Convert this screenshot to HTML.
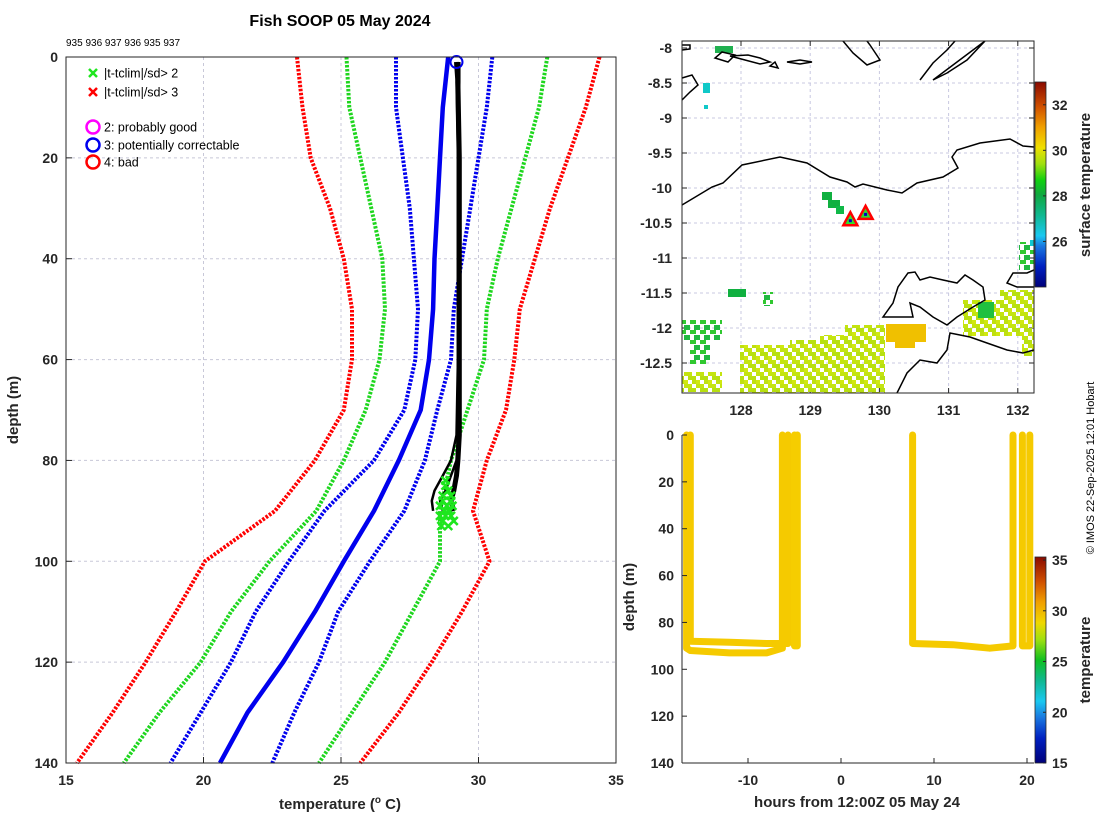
<!DOCTYPE html>
<html><head><meta charset="utf-8"><style>
body{margin:0;background:#fff}
svg{display:block;font-family:"Liberation Sans","DejaVu Sans",sans-serif}
.tk{font-size:14px;font-weight:bold;fill:#262626}
.lb{font-size:15px;font-weight:bold;fill:#262626}
</style></head><body>
<svg id="svg" width="1100" height="820" viewBox="0 0 1100 820">
<defs>
<linearGradient id="cbSurf" x1="0" y1="1" x2="0" y2="0">
<stop offset="0" stop-color="#00007a"/><stop offset="0.1" stop-color="#0020c0"/><stop offset="0.2" stop-color="#1a78e0"/><stop offset="0.25" stop-color="#1ac8f0"/><stop offset="0.35" stop-color="#10b890"/><stop offset="0.45" stop-color="#10a840"/><stop offset="0.52" stop-color="#10d010"/><stop offset="0.6" stop-color="#a0e010"/><stop offset="0.68" stop-color="#f0e000"/><stop offset="0.78" stop-color="#f0a000"/><stop offset="0.88" stop-color="#d05000"/><stop offset="1" stop-color="#8a0a00"/>
</linearGradient>
<linearGradient id="cbTemp" x1="0" y1="1" x2="0" y2="0">
<stop offset="0" stop-color="#00007a"/><stop offset="0.12" stop-color="#0020c0"/><stop offset="0.22" stop-color="#1a78e0"/><stop offset="0.3" stop-color="#1ac8f0"/><stop offset="0.4" stop-color="#10b890"/><stop offset="0.5" stop-color="#10c020"/><stop offset="0.6" stop-color="#a0e010"/><stop offset="0.68" stop-color="#f0d800"/><stop offset="0.78" stop-color="#f0a000"/><stop offset="0.88" stop-color="#d05000"/><stop offset="1" stop-color="#8a0a00"/>
</linearGradient>
<pattern id="speckY" width="12" height="12" patternUnits="userSpaceOnUse">
<rect x="0" y="0" width="8" height="4" fill="#c4e410"/><rect x="4" y="4" width="8" height="4" fill="#b8e010"/><rect x="0" y="8" width="4" height="4" fill="#d0e810"/><rect x="8" y="8" width="4" height="4" fill="#c0e010"/>
</pattern>
<pattern id="speckG" width="10" height="10" patternUnits="userSpaceOnUse">
<rect x="0" y="0" width="6" height="4" fill="#30c830"/><rect x="4" y="5" width="6" height="5" fill="#20b840"/>
</pattern>
</defs>
<text x="340" y="26" text-anchor="middle" style="font-size:16px;font-weight:bold">Fish SOOP 05 May 2024</text>
<text x="66" y="46" style="font-size:10px">935 936 937 936 935 937</text>
<g id="left"></g>
<g id="map"></g>
<g id="br"></g>
<text transform="translate(1094,468) rotate(-90)" text-anchor="middle" style="font-size:11px">© IMOS 22-Sep-2025 12:01 Hobart</text>
</svg>
<script>
// ---------- left chart data ----------
const depths = [0,10,20,30,40,50,60,70,80,90,100,110,120,130,140];
const redHi  = [34.4,33.9,33.25,32.6,32.05,31.5,31.3,31.0,30.3,29.8,30.4,29.4,28.3,27.1,25.7];
const redLo  = [23.4,23.6,23.9,24.6,25.1,25.4,25.4,25.1,24.05,22.6,20.05,19.0,17.9,16.7,15.4];
const grnHi  = [32.5,32.2,31.7,31.2,30.7,30.3,30.2,29.6,29.0,28.6,28.6,27.6,26.6,25.4,24.2];
const grnLo  = [25.2,25.3,25.7,26.1,26.5,26.6,26.4,25.9,25.1,24.1,22.4,21.0,19.9,18.4,17.1];
const bluHi  = [30.5,30.3,30.0,29.7,29.4,29.1,29.0,28.5,28.05,27.3,26.05,24.9,24.2,23.3,22.5];
const bluLo  = [27.0,27.0,27.25,27.5,27.65,27.8,27.7,27.3,26.2,24.4,23.1,21.9,21.0,19.9,18.8];
const climMean = [28.9,28.7,28.6,28.5,28.4,28.35,28.2,27.9,27.1,26.2,25.1,24.05,22.9,21.6,20.6];
const castDepth = [1,5,20,40,60,75,80,83,86,88,90];
const cast1 = [29.25,29.2,29.25,29.25,29.25,29.25,29.2,29.0,28.8,28.6,28.7];
const cast2 = [29.3,29.3,29.25,29.25,29.25,29.2,29.0,28.7,28.4,28.3,28.35];
const cast3 = [29.2,29.25,29.3,29.3,29.3,29.3,29.25,29.2,29.1,29.0,29.1];
const flagT = [28.8,28.9,29.0,28.7,28.85,29.05,28.75,28.95,28.6,28.8,29.1,28.7,28.9,28.65,29.0,28.8,28.7,29.0,28.9,28.6];
const flagD = [84,86,87,88,89,89,90,90,91,91,92,92,93,93,88,85,87,91,90,89];
const xTicks = [15,20,25,30,35];
const yTicks = [0,20,40,60,80,100,120,140];
// ---------- map data ----------
const lonTicks = [128,129,130,131,132];
const latTicks = [-8,-8.5,-9,-9.5,-10,-10.5,-11,-11.5,-12,-12.5];
const shipLon = [129.58,129.8];
const shipLat = [-10.46,-10.37];
const sstCb = [26,28,30,32];
// ---------- depth-time data ----------
const hrTicks = [-10,0,10,20];
const trkHours = [
 [-16.6,-16.6,-16.2,-12,-8,-6.3,-6.3],
 [-16.2,-16.2,-12,-8,-5.7,-5.7],
 [-4.7,-4.7,-5.0,-5.0],
 [7.7,7.7,12,16,18.5,18.5],
 [19.5,19.5,20.3,20.3]];
const trkDepths = [
 [0,91,92,93,93,91,0],
 [0,88,88.5,89,89,0],
 [0,90,90,0],
 [0,89,89.5,91,90,0],
 [0,90,90,0]];
const trkTemp = [29.2,29.2,29.1,29.2,29.2];
const tCb = [15,20,25,30,35];

const NS="http://www.w3.org/2000/svg";
function mk(parent,tag,attrs,txt){const e=document.createElementNS(NS,tag);for(const k in attrs)e.setAttribute(k,attrs[k]);if(txt!==undefined)e.textContent=txt;parent.appendChild(e);return e;}

// ===== left =====
const L=document.getElementById('left');
const LX0=66,LX1=616,LY0=57,LY1=763;
const lx=t=>LX0+(t-15)*(LX1-LX0)/20, ly=d=>LY0+d*(LY1-LY0)/140;
xTicks.forEach(t=>{if(t>15&&t<35){const g=mk(L,'line',{x1:lx(t),x2:lx(t),y1:LY0,y2:LY1,stroke:'#c8c8d8','stroke-dasharray':'3 3'});}
 const tx=mk(L,'text',{x:lx(t),y:LY1+22,'text-anchor':'middle',class:'tk'},t);
 
 mk(L,'line',{x1:lx(t),x2:lx(t),y1:LY1,y2:LY1-6,stroke:'#262626'});});
yTicks.forEach(d=>{if(d>0&&d<140){const g=mk(L,'line',{x1:LX0,x2:LX1,y1:ly(d),y2:ly(d),stroke:'#c8c8d8','stroke-dasharray':'3 3'});}
 const tx=mk(L,'text',{x:LX0-8,y:ly(d)+5,'text-anchor':'end',class:'tk'},d);
 
 mk(L,'line',{x1:LX0,x2:LX0+6,y1:ly(d),y2:ly(d),stroke:'#262626'});});
function series(vals,dep,color,w,dash,name){const p=vals.map((v,i)=>(i?'L':'M')+lx(v).toFixed(1)+','+ly(dep[i]).toFixed(1)).join('');
 const e=mk(L,'path',{d:p,fill:'none',stroke:color,'stroke-width':w,'stroke-dasharray':dash||'none','stroke-linejoin':'round'});
 }
series(redHi,depths,'#f00',4,'2.5 1.5','clim-plus-3sd');
series(redLo,depths,'#f00',4,'2.5 1.5','clim-minus-3sd');
series(grnHi,depths,'#1ed61e',4,'2.5 1.5','clim-plus-2sd');
series(grnLo,depths,'#1ed61e',4,'2.5 1.5','clim-minus-2sd');
series(bluHi,depths,'#0000ee',4,'2.5 1.5','clim-plus-1sd');
series(bluLo,depths,'#0000ee',4,'2.5 1.5','clim-minus-1sd');
series(climMean,depths,'#0000ee',4.5,null,'clim-mean');
series(cast1,castDepth,'#000',2.5,null,'profile-cast-1');
series(cast2,castDepth,'#000',2.5,null,'profile-cast-2');
series(cast3,castDepth,'#000',5,null,'profile-cast-3');
flagT.forEach((t,i)=>{const x=lx(t),y=ly(flagD[i]);const g=mk(L,'path',{d:`M${x-4},${y-4}L${x+4},${y+4}M${x-4},${y+4}L${x+4},${y-4}`,stroke:'#1ee61e','stroke-width':2.5});
 });
{const c=mk(L,'circle',{cx:lx(cast3[0]),cy:ly(1),r:6,fill:'none',stroke:'#0000ee','stroke-width':2});}
{const r=mk(L,'rect',{x:LX0,y:LY0,width:LX1-LX0,height:LY1-LY0,fill:'none',stroke:'#262626'});}
const legItems=[['x','#1ee61e','|t-tclim|/sd> 2',73],['x','#f00','|t-tclim|/sd> 3',92],['o','#f0f','2: probably good',127],['o','#0000ee','3: potentially correctable',145],['o','#f00','4: bad',162]];
legItems.forEach(([m,c,t,y])=>{const g=mk(L,'g',{});
 if(m==='x')mk(g,'path',{d:`M89,${y-4}L97,${y+4}M89,${y+4}L97,${y-4}`,stroke:c,'stroke-width':2.5});
 else mk(g,'circle',{cx:93,cy:y,r:6.5,fill:'none',stroke:c,'stroke-width':2.5});
 mk(g,'text',{x:104,y:y+4.5,style:'font-size:12.5px'},t);});
{const t=mk(L,'text',{x:340,y:809,'text-anchor':'middle',class:'lb'});
 mk(t,'tspan',{},'temperature (');mk(t,'tspan',{dy:-6,style:'font-size:10px'},'o');mk(t,'tspan',{dy:6},' C)');}
{const t=mk(L,'text',{transform:'translate(18,410) rotate(-90)','text-anchor':'middle',class:'lb'},'depth (m)');}

// ===== map =====
const M=document.getElementById('map');
const MX0=682,MX1=1034,MY0=41,MY1=393;
const mx=lo=>741+(lo-128)*69.2, my=la=>48+(-8-la)*70;
lonTicks.forEach(v=>{mk(M,'line',{x1:mx(v),x2:mx(v),y1:MY0,y2:MY1,stroke:'#c8c8e0','stroke-dasharray':'3 3'});
 mk(M,'line',{x1:mx(v),x2:mx(v),y1:MY1,y2:MY1-5,stroke:'#262626'});mk(M,'line',{x1:mx(v),x2:mx(v),y1:MY0,y2:MY0+5,stroke:'#262626'});
 const t=mk(M,'text',{x:mx(v),y:MY1+22,'text-anchor':'middle',class:'tk'},v);});
latTicks.forEach(v=>{mk(M,'line',{x1:MX0,x2:MX1,y1:my(v),y2:my(v),stroke:'#c8c8e0','stroke-dasharray':'3 3'});
 mk(M,'line',{x1:MX0,x2:MX0+5,y1:my(v),y2:my(v),stroke:'#262626'});mk(M,'line',{x1:MX1,x2:MX1-5,y1:my(v),y2:my(v),stroke:'#262626'});
 const t=mk(M,'text',{x:MX0-10,y:my(v)+5,'text-anchor':'end',class:'tk'},v);});
const patches=[[715,46,18,7,'#20b050'],[703,83,7,10,'#10c8c8'],[704,105,4,4,'#10c8c8'],[822,192,10,8,'#10b040'],[828,200,12,8,'#10b040'],[836,206,8,8,'#10b848'],
[1019,242,15,28,'url(#speckG)'],[1030,240,4,6,'#10c8d0'],[728,289,18,8,'#10b040'],[763,292,10,14,'url(#speckG)'],
[682,320,40,20,'url(#speckG)'],[690,335,20,30,'url(#speckG)'],[682,372,40,20,'url(#speckY)'],
[740,345,60,48,'url(#speckY)'],[790,340,60,53,'url(#speckY)'],[820,335,40,58,'url(#speckY)'],[845,325,40,68,'url(#speckY)'],
[886,324,40,18,'#f0c000'],[895,340,20,8,'#f0c000'],[963,300,71,36,'url(#speckY)'],[1000,290,34,10,'url(#speckY)'],[978,302,16,16,'#20c040'],[1022,320,12,36,'url(#speckY)']];
patches.forEach(([x,y,w,h,c])=>mk(M,'rect',{x:x,y:y,width:w,height:h,fill:c}));
const coasts=['M682,205L712,187L723,183L742,165L780,157L807,163L830,177L847,182L855,187L863,184L887,190L902,193L917,183L943,177L958,168L952,157L957,150L980,143L1010,139L1023,146L1034,147',
'M883,317L893,303L898,287L908,273L915,272L920,280L930,277L943,280L957,283L965,275L973,280L983,287L985,300L973,307L957,317L947,325L933,317L920,307L910,303L913,317L900,317Z',
'M897,393L907,373L920,360L937,363L947,350L950,333L970,337L987,343L1007,350L1023,353L1034,350',
'M1034,270L1027,273L1013,273L1007,283L1017,287L1034,287',
'M920,80L933,63L947,50L955,41M985,41L967,60L947,73L933,80Z',
'M843,41L853,53L867,65L880,60L870,45L867,41',
'M682,100L690,92L698,85L692,75L682,78',
'M715,58L728,62L735,55L722,52Z','M730,56L745,60L760,64L770,62L760,58L748,55Z','M770,66L778,68L775,62Z','M787,62L800,64L812,62L800,60Z',
'M682,50L690,49L690,45L682,45'];
coasts.forEach(d=>{const p=mk(M,'path',{d:d,fill:'none',stroke:'#000','stroke-width':1.5});});
shipLon.forEach((lo,i)=>{const x=mx(lo),y=my(shipLat[i]);const g=mk(M,'g',{});
 mk(g,'path',{d:`M${x},${y-8}L${x+7},${y+5}L${x-7},${y+5}Z`,fill:'#2ee02e',stroke:'#f00','stroke-width':2.5});mk(g,'rect',{x:x-1.5,y:y-1,width:3,height:3,fill:'#0000c0'});});
mk(M,'rect',{x:MX0,y:MY0,width:MX1-MX0,height:MY1-MY0,fill:'none',stroke:'#262626'});
const CB0=82,CB1=287,cy1=v=>CB1-(v-24)*(CB1-CB0)/9;
{const r=mk(M,'rect',{x:1035,y:CB0,width:11,height:CB1-CB0,fill:'url(#cbSurf)',stroke:'#262626','stroke-width':0.8});}
sstCb.forEach(v=>{mk(M,'line',{x1:1043,x2:1046,y1:cy1(v),y2:cy1(v),stroke:'#262626'});const t=mk(M,'text',{x:1052,y:cy1(v)+5,class:'tk'},v);});
{const t=mk(M,'text',{transform:'translate(1090,185) rotate(-90)','text-anchor':'middle',class:'lb'},'surface temperature');}

// ===== bottom right =====
const B=document.getElementById('br');
const BX0=682,BX1=1034,BY0=435,BY1=763;
const bx=h=>841+h*9.3, by=d=>BY0+d*(BY1-BY0)/140;
function jet(v,lo,hi){const f=Math.max(0,Math.min(1,(v-lo)/(hi-lo)));
 const st=[[0,[0,0,122]],[0.22,[26,120,224]],[0.3,[26,200,240]],[0.5,[16,192,32]],[0.6,[160,224,16]],[0.7,[246,208,0]],[0.78,[240,160,0]],[1,[138,10,0]]];
 for(let i=1;i<st.length;i++)if(f<=st[i][0]){const a=st[i-1],b=st[i],u=(f-a[0])/(b[0]-a[0]);return 'rgb('+a[1].map((c,k)=>Math.round(c+(b[1][k]-c)*u)).join(',')+')';}return 'rgb(138,10,0)';}
trkHours.forEach((hs,i)=>{const p=hs.map((h,j)=>(j?'L':'M')+bx(h).toFixed(1)+','+by(trkDepths[i][j]).toFixed(1)).join('');
 const e=mk(B,'path',{d:p,fill:'none',stroke:jet(trkTemp[i],15,35),'stroke-width':7,'stroke-linejoin':'round','stroke-linecap':'round'});
 });
hrTicks.forEach(h=>{mk(B,'line',{x1:bx(h),x2:bx(h),y1:BY1,y2:BY1-5,stroke:'#262626'});const t=mk(B,'text',{x:bx(h),y:BY1+22,'text-anchor':'middle',class:'tk'},h);});
yTicks.forEach(d=>{mk(B,'line',{x1:BX0,x2:BX0+5,y1:by(d),y2:by(d),stroke:'#262626'});const t=mk(B,'text',{x:BX0-8,y:by(d)+5,'text-anchor':'end',class:'tk'},d);});
mk(B,'line',{x1:BX0,x2:BX0,y1:BY0,y2:BY1,stroke:'#262626'});mk(B,'line',{x1:BX0,x2:BX1,y1:BY1,y2:BY1,stroke:'#262626'});
{const t=mk(B,'text',{x:857,y:807,'text-anchor':'middle',class:'lb'},'hours from 12:00Z 05 May 24');}
{const t=mk(B,'text',{transform:'translate(634,597) rotate(-90)','text-anchor':'middle',class:'lb'},'depth (m)');}
const TB0=557,TB1=763,ty=v=>TB1-(v-15)*(TB1-TB0)/20.3;
{const r=mk(B,'rect',{x:1035,y:TB0,width:11,height:TB1-TB0,fill:'url(#cbTemp)',stroke:'#262626','stroke-width':0.8});}
tCb.forEach(v=>{mk(B,'line',{x1:1043,x2:1046,y1:ty(v),y2:ty(v),stroke:'#262626'});const t=mk(B,'text',{x:1052,y:ty(v)+5,class:'tk'},v);});
{const t=mk(B,'text',{transform:'translate(1090,660) rotate(-90)','text-anchor':'middle',class:'lb'},'temperature');}
</script>
</body></html>
